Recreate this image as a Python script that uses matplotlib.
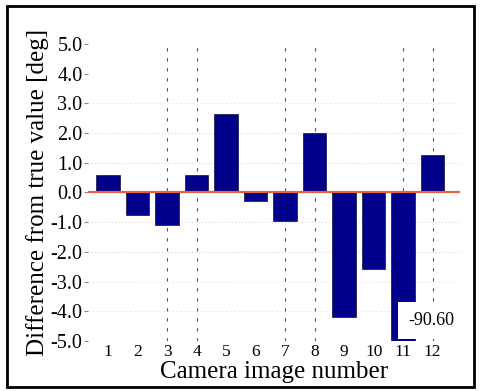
import matplotlib
matplotlib.use("Agg")
import matplotlib.pyplot as plt
from matplotlib.patches import Rectangle

# difference per camera image [deg]; image 11 is off scale (-90.60)
images = [1, 2, 3, 4, 5, 6, 7, 8, 9, 10, 11, 12]
diffs = [0.6, -0.77, -1.1, 0.6, 2.63, -0.3, -0.97, 2.0, -4.2, -2.56, -90.60, 1.25]
yticks = [5.0, 4.0, 3.0, 2.0, 1.0, 0.0, -1.0, -2.0, -3.0, -4.0, -5.0]
dashed_x = [3, 4, 7, 8, 11, 12]

plt.rcParams['font.family'] = ['Liberation Serif', 'DejaVu Serif']

fig = plt.figure(figsize=(4.82, 3.91), dpi=100)
ax = fig.add_axes([0.1826, 0.1279, 0.772, 0.7596])

for v in [2.0, 1.0, -1.0, -2.0]:
    ax.axhline(v, color='#d8d8d8', lw=0.8, ls=(0, (1, 2)), zorder=0)
for v in [3.0, -3.0, -4.0]:
    ax.axhline(v, color='#e4e4e4', lw=0.6, ls=(0, (2, 3)), zorder=0)
for x in dashed_x:
    ax.axvline(x, color='#555555', lw=0.8, ls=(0, (3, 6)), zorder=0)

ax.bar(images, diffs, width=0.8, color='#00008b', edgecolor='#111133',
       lw=0.5, zorder=2)
ax.axhline(0, color='#e8603c', lw=1.6, zorder=3)

ax.set_xlim(0.32, 12.93)
ax.set_ylim(-5.0, 5.0)
ax.set_yticks(yticks)
ax.set_yticklabels([f"{v:.1f}" for v in yticks])
ax.set_xticks(images)
ax.tick_params(axis='y', labelsize=14.5, length=3, pad=1, color='#888888')
ax.tick_params(axis='x', labelsize=12.5, length=0, pad=2)
for s in ax.spines.values():
    s.set_visible(False)

ax.set_xlabel("Camera image number", fontsize=18, labelpad=1)
ax.set_ylabel("Difference from true value [deg]", fontsize=18, labelpad=1)

# off-scale value label
ax.text(11.95, -4.3, "-90.60", fontsize=13, ha='center', va='center', zorder=5,
        bbox=dict(boxstyle='square,pad=0.55', fc='white', ec='none'))

fig.patches.append(Rectangle((7 / 482, 4 / 391), 467 / 482, 381 / 391,
                             transform=fig.transFigure, fill=False,
                             ec='black', lw=2))

fig.savefig("out.png", dpi=100)
